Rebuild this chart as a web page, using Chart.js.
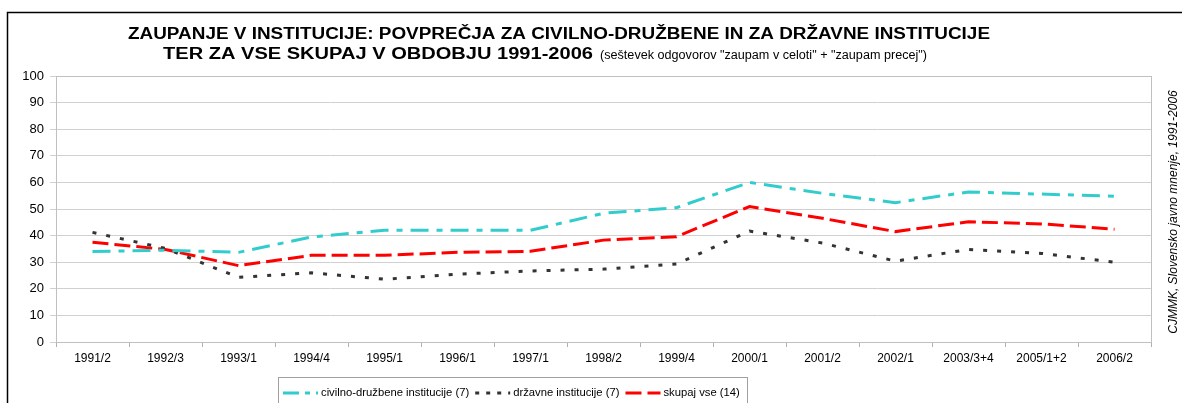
<!DOCTYPE html>
<html>
<head>
<meta charset="utf-8">
<script src="https://cdn.jsdelivr.net/npm/chart.js@4.4.1/dist/chart.umd.min.js"></script>
<style>
  body { margin: 0; background: #fff; }
  canvas { display: block; }
</style>
</head>
<body>
<canvas id="zaupanje" width="1182" height="403"></canvas>
<script>
const periods = ["1991/2", "1992/3", "1993/1", "1994/4", "1995/1", "1996/1", "1997/1", "1998/2",
  "1999/4", "2000/1", "2001/2", "2002/1", "2003/3+4", "2005/1+2", "2006/2"];
const civilno = [34, 34.5, 33.7, 39.5, 42, 42, 42, 48.4, 50.5, 60, 55.9, 52.4, 56.4, 55.6, 54.8];
const drzavne = [41.2, 35.2, 24.3, 26, 23.6, 25.5, 26.7, 27.4, 29.3, 41.7, 37.2, 30.4, 34.8, 33.3, 30];
const skupaj = [37.5, 34.8, 28.7, 32.6, 32.6, 33.7, 34.1, 38.3, 39.6, 50.9, 46.5, 41.5, 45.2, 44.4, 42.4];
const yTicks = [0, 10, 20, 30, 40, 50, 60, 70, 80, 90, 100];

const FONT = "'Liberation Sans', Arial, sans-serif";

// draw text squeezed/stretched to a given width (original looks stretched)
function fitText(c, text, font, left, width, y) {
  c.save();
  c.font = font;
  const w = c.measureText(text).width;
  c.translate(left, y);
  c.scale(width / w, 1);
  c.fillText(text, 0, 0);
  c.restore();
}

// title, source note, frame and legend drawn on the canvas
const extras = {
  id: "extras",
  afterDraw(chart) {
    const c = chart.ctx;
    const a = chart.chartArea;
    c.save();
    // outer frame
    c.strokeStyle = "#000";
    c.lineWidth = 1.5;
    c.strokeRect(7.5, 12.5, 1190, 420);
    // plot border
    c.strokeStyle = "#c0c0c0";
    c.lineWidth = 1;
    c.strokeRect(a.left + 0.5, a.top + 0.5, a.right - a.left, a.bottom - a.top);

    // title
    c.fillStyle = "#000";
    c.textBaseline = "alphabetic";
    c.textAlign = "left";
    fitText(c, "ZAUPANJE V INSTITUCIJE: POVPREČJA ZA CIVILNO-DRUŽBENE IN ZA DRŽAVNE INSTITUCIJE",
      "bold 16px " + FONT, 128, 862, 39);
    fitText(c, "TER ZA VSE SKUPAJ V OBDOBJU 1991-2006", "bold 16px " + FONT, 163, 430, 59);
    fitText(c, "(seštevek odgovorov \"zaupam v celoti\" + \"zaupam precej\")", "12px " + FONT, 600, 327, 59);

    // source, rotated
    c.save();
    c.translate(1177, 212);
    c.rotate(-Math.PI / 2);
    c.font = "italic 12px " + FONT;
    c.textAlign = "center";
    c.textBaseline = "alphabetic";
    c.fillText("CJMMK, Slovensko javno mnenje, 1991-2006", 0, 0);
    c.restore();

    // legend
    c.strokeStyle = "#a0a0a0";
    c.lineWidth = 1;
    c.strokeRect(278.5, 377.5, 469, 40);
    c.font = "11.25px " + FONT;
    c.textBaseline = "middle";
    let x = 283;
    const ly = 393;
    chart.data.datasets.forEach(ds => {
      c.save();
      c.strokeStyle = ds.borderColor;
      c.lineWidth = ds.borderWidth;
      c.setLineDash(ds.legendDash || ds.borderDash);
      c.beginPath();
      c.moveTo(x, ly);
      c.lineTo(x + 35, ly);
      c.stroke();
      c.restore();
      c.fillStyle = "#000";
      c.fillText(ds.label, x + 38, ly);
      x += 38 + c.measureText(ds.label).width + 6;
    });
    c.restore();
  }
};

new Chart(document.getElementById("zaupanje"), {
  type: "line",
  data: {
    labels: periods,
    datasets: [
      {
        label: "civilno-družbene institucije (7)",
        data: civilno,
        borderColor: "#33CCCC",
        borderWidth: 3,
        borderDash: [18, 8, 6, 8],
        legendDash: [16, 6, 5, 6],
      },
      {
        label: "državne institucije (7)",
        data: drzavne,
        borderColor: "#333333",
        borderWidth: 3,
        borderDash: [4, 10],
        legendDash: [4, 7],
      },
      {
        label: "skupaj vse (14)",
        data: skupaj,
        borderColor: "#FF0000",
        borderWidth: 3,
        borderDash: [16, 6],
      },
    ],
  },
  options: {
    responsive: false,
    animation: false,
    layout: { padding: { left: 0, right: 31, top: 76, bottom: 0 } },
    elements: {
      point: { radius: 0 },
      line: { tension: 0, borderCapStyle: "butt" },
    },
    plugins: {
      legend: { display: false },
      title: { display: false },
      tooltip: { enabled: false },
    },
    scales: {
      x: {
        offset: true,
        grid: {
          offset: true,
          drawOnChartArea: false,
          drawTicks: true,
          tickLength: 5,
          color: "#b0b0b0",
        },
        border: { color: "#b0b0b0" },
        ticks: {
          color: "#000",
          font: { family: FONT, size: 12 },
          maxRotation: 0,
          autoSkip: false,
          padding: 4,
        },
        afterFit(scale) { scale.height = 61; },
      },
      y: {
        min: 0,
        max: 100,
        afterBuildTicks(scale) { scale.ticks = yTicks.map(v => ({ value: v })); },
        grid: {
          color: "#d0d0d0",
          tickLength: 6,
        },
        border: { color: "#b0b0b0" },
        ticks: {
          color: "#000",
          font: { family: FONT, size: 13 },
          padding: 6,
        },
        afterFit(scale) { scale.width = 56; },
      },
    },
  },
  plugins: [extras],
});
</script>
</body>
</html>
